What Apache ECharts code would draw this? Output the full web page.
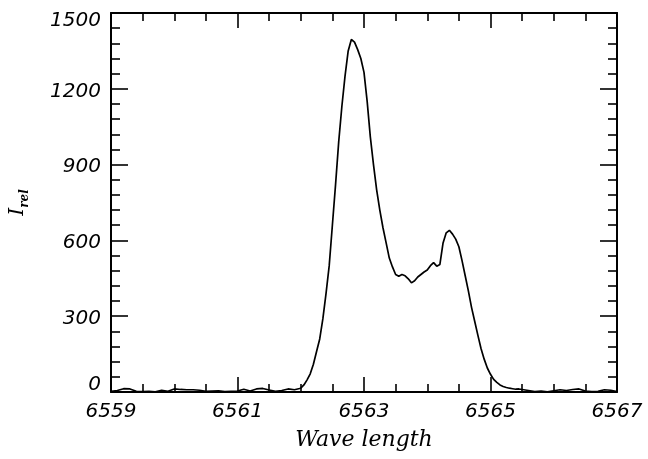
<!DOCTYPE html>
<html>
<head>
<meta charset="utf-8">
<script src="https://cdn.jsdelivr.net/npm/echarts@6/dist/echarts.min.js"></script>
<style>html,body{margin:0;padding:0;background:#fff;}#c{width:648px;height:459px;}</style>
</head>
<body>
<div id="c"></div>
<script>
// Wavelength (Angstrom) and relative intensity
const wavelengths = [
  6559.0,6559.1,6559.2,6559.3,6559.4,6559.5,6559.6,6559.7,6559.8,6559.9,
  6560.0,6560.1,6560.2,6560.3,6560.4,6560.5,6560.6,6560.7,6560.8,6560.9,
  6561.0,6561.1,6561.2,6561.3,6561.4,6561.5,6561.6,6561.7,6561.8,6561.9,
  6562.00,6562.05,6562.10,6562.15,6562.20,6562.25,6562.30,6562.35,6562.40,6562.45,
  6562.50,6562.55,6562.60,6562.65,6562.70,6562.75,6562.80,6562.85,6562.90,6562.95,
  6563.00,6563.05,6563.10,6563.15,6563.20,6563.25,6563.30,6563.35,6563.40,6563.45,
  6563.50,6563.55,6563.60,6563.65,6563.70,6563.75,6563.80,6563.85,6563.90,6563.95,
  6564.00,6564.05,6564.10,6564.15,6564.20,6564.25,6564.30,6564.35,6564.40,6564.45,
  6564.50,6564.55,6564.60,6564.65,6564.70,6564.75,6564.80,6564.85,6564.90,6564.95,
  6565.00,6565.05,6565.10,6565.15,6565.20,6565.25,6565.30,6565.35,6565.40,6565.45,
  6565.50,6565.6,6565.7,6565.8,6565.9,6566.0,6566.1,6566.2,6566.3,6566.4,
  6566.5,6566.6,6566.7,6566.8,6566.9,6567.0
];
const intensities = [
  3,6,13,12,3,2,3,1,7,3,
  12,10,9,9,7,3,4,5,2,3,
  4,11,4,12,14,8,3,6,12,9,
  15,28,48,72,110,160,210,290,390,500,
  660,820,990,1130,1250,1350,1395,1385,1355,1320,
  1265,1150,1010,900,800,720,650,590,530,495,
  465,458,465,460,448,432,440,455,465,475,
  483,500,512,498,505,590,630,640,625,605,
  575,520,460,400,335,280,225,172,130,95,
  70,50,38,28,22,18,15,13,11,12,
  10,6,2,4,1,5,9,6,10,12,
  4,2,3,9,7,2
];
const xTickLabels = ['6559','6561','6563','6565','6567'];
const yTickLabels = ['0','300','600','900','1200','1500'];
const xName = 'Wave length';
const yName = 'I';
const ySub = 'rel';

const X0 = 6559, XSPAN = 8;
const seriesData = wavelengths.map((w, i) => [w - X0, intensities[i]]);

const labelFont = {fontFamily: 'DejaVu Sans', fontStyle: 'italic', fontSize: 20, color: '#000'};
const lineStyle = {color: '#000', width: 1.6};

function xAxisCfg(pos, showLabel) {
  return {
    type: 'value', position: pos, min: 0, max: XSPAN, interval: 2,
    axisLine: {show: true, onZero: false, lineStyle: {color: '#000', width: 2}},
    axisTick: {show: true, inside: true, length: 15, lineStyle: lineStyle},
    minorTick: {show: true, splitNumber: 4, length: 8, lineStyle: lineStyle},
    splitLine: {show: false},
    axisLabel: Object.assign({show: showLabel, margin: 10,
      formatter: v => xTickLabels[Math.round(v / 2)]}, labelFont)
  };
}
function yAxisCfg(pos, showLabel) {
  const rf = Object.assign({}, labelFont);
  return {
    type: 'value', position: pos, min: 0, max: 1500, interval: 300,
    axisLine: {show: true, onZero: false, lineStyle: {color: '#000', width: 2}},
    axisTick: {show: true, inside: true, length: 17, lineStyle: lineStyle},
    minorTick: {show: true, splitNumber: 5, length: 9, lineStyle: lineStyle},
    splitLine: {show: false},
    axisLabel: {show: showLabel, margin: 10,
      formatter: v => {
        const i = Math.round(v / 300);
        const t = yTickLabels[i];
        if (i === 0) return '{lo|' + t + '}';
        if (i === yTickLabels.length - 1) return '{hi|' + t + '}';
        return '{md|' + t + '}';
      },
      rich: {
        lo: Object.assign({padding: [0, 0, 14, 0]}, rf),
        hi: Object.assign({padding: [16, 0, 0, 0]}, rf),
        md: Object.assign({padding: [5, 0, 0, 0]}, rf)
      }
    }
  };
}

const xb = xAxisCfg('bottom', true);
xb.name = xName;
xb.nameLocation = 'middle';
xb.nameGap = 37;
xb.nameTextStyle = {fontFamily: 'DejaVu Serif', fontStyle: 'italic', fontSize: 22, color: '#000'};
const xt = xAxisCfg('top', false);

const yl = yAxisCfg('left', true);
yl.name = '{a|' + yName + '}{b|' + ySub + '}';
yl.nameLocation = 'middle';
yl.nameRotate = 90;
yl.nameGap = 80;
yl.nameTextStyle = {
  rich: {
    a: {fontFamily: 'DejaVu Serif', fontStyle: 'italic', fontSize: 20, color: '#000', lineHeight: 26},
    b: {fontFamily: 'DejaVu Serif', fontStyle: 'italic', fontWeight: 'bold', fontSize: 12, color: '#000', verticalAlign: 'bottom'}
  }
};
const yr = yAxisCfg('right', false);

const chart = echarts.init(document.getElementById('c'), null, {renderer: 'canvas'});
chart.setOption({
  animation: false,
  backgroundColor: '#fff',
  grid: {left: 110, right: 31, top: 13, bottom: 67, containLabel: false},
  xAxis: [xb, xt],
  yAxis: [yl, yr],
  series: [{
    type: 'line', xAxisIndex: 0, yAxisIndex: 0,
    data: seriesData, showSymbol: false, smooth: false,
    lineStyle: {color: '#000', width: 1.7}
  }]
});
</script>
</body>
</html>
